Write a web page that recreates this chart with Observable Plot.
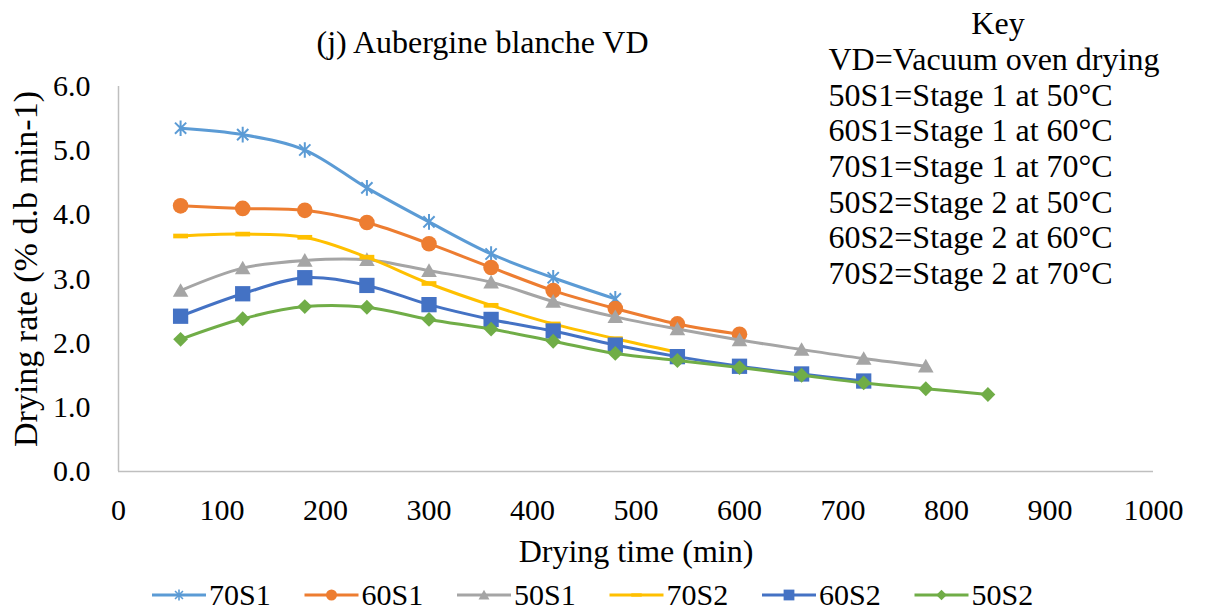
<!DOCTYPE html>
<html>
<head>
<meta charset="utf-8">
<script src="https://cdn.jsdelivr.net/npm/d3@7"></script>
<script src="https://cdn.jsdelivr.net/npm/@observablehq/plot@0.6"></script>
<style>
  body { margin: 0; background: #fff; }
  svg { display: block; }
</style>
</head>
<body>
<div id="chart"></div>
<script>
// Drying time (min) at which each rate was sampled
const times = [60, 120, 180, 240, 300, 360, 420, 480, 540, 600, 660, 720, 780, 840];

// Drying rate (% d.b. min-1) per treatment
const rate70S1 = [5.35, 5.25, 5.01, 4.42, 3.89, 3.39, 3.02, 2.69];
const rate60S1 = [4.14, 4.10, 4.07, 3.88, 3.55, 3.18, 2.82, 2.54, 2.30, 2.14];
const rate50S1 = [2.82, 3.17, 3.29, 3.30, 3.13, 2.95, 2.65, 2.41, 2.22, 2.05, 1.90, 1.76, 1.64];
const rate70S2 = [3.67, 3.70, 3.65, 3.34, 2.93, 2.59, 2.30, 2.07, 1.86];
const rate60S2 = [2.42, 2.77, 3.02, 2.90, 2.60, 2.37, 2.19, 1.97, 1.79, 1.64, 1.52, 1.41];
const rate50S2 = [2.06, 2.38, 2.57, 2.56, 2.37, 2.22, 2.03, 1.84, 1.73, 1.62, 1.50, 1.38, 1.29, 1.20];

const seriesNames = ["70S1", "60S1", "50S1", "70S2", "60S2", "50S2"];
const seriesColors = ["#5B9BD5", "#ED7D31", "#A5A5A5", "#FFC000", "#4472C4", "#70AD47"];
const seriesRates = [rate70S1, rate60S1, rate50S1, rate70S2, rate60S2, rate50S2];

const xTicks = [0, 100, 200, 300, 400, 500, 600, 700, 800, 900, 1000];
const yTicks = [0, 1, 2, 3, 4, 5, 6];

const chartTitle = "(j) Aubergine blanche VD";
const keyHeading = "Key";
const keyLines = [
  "VD=Vacuum oven drying",
  "50S1=Stage 1 at 50°C",
  "60S1=Stage 1 at 60°C",
  "70S1=Stage 1 at 70°C",
  "50S2=Stage 2 at 50°C",
  "60S2=Stage 2 at 60°C",
  "70S2=Stage 2 at 70°C"
];
const xLabel = "Drying time (min)";
const yLabel = "Drying rate (% d.b min-1)";

// Marker shapes; r is recovered from the symbol area Plot passes in
const rOf = (size) => Math.sqrt(size / Math.PI);
const starSym = { draw(ctx, size) {
  const r = rOf(size), d = r * 0.72;
  ctx.moveTo(0, -r); ctx.lineTo(0, r);
  ctx.moveTo(-d, -d); ctx.lineTo(d, d);
  ctx.moveTo(-d, d); ctx.lineTo(d, -d);
}};
const circleSym = d3.symbolCircle;
const triangleSym = { draw(ctx, size) {
  const r = rOf(size);
  ctx.moveTo(0, -r * 0.95); ctx.lineTo(r, r * 0.8); ctx.lineTo(-r, r * 0.8); ctx.closePath();
}};
const dashSym = { draw(ctx, size) {
  const r = rOf(size);
  ctx.rect(-r * 0.95, -r * 0.3, r * 1.9, r * 0.6);
}};
const squareSym = { draw(ctx, size) {
  const r = rOf(size) * 0.98;
  ctx.rect(-r, -r, 2 * r, 2 * r);
}};
const diamondSym = { draw(ctx, size) {
  const h = rOf(size) * 0.95;
  ctx.moveTo(0, -h); ctx.lineTo(h, 0); ctx.lineTo(0, h); ctx.lineTo(-h, 0); ctx.closePath();
}};
const seriesSymbols = [starSym, circleSym, triangleSym, dashSym, squareSym, diamondSym];

const FONT = "'Liberation Serif', 'Times New Roman', serif";
const markerR = 7.8;
const TICK_FS = 30;
const TEXT_FS = 32;

const series = seriesNames.map((name, i) => ({
  name,
  color: seriesColors[i],
  symbol: seriesSymbols[i],
  rows: seriesRates[i].map((v, j) => ({ time: times[j], rate: v }))
}));

// Each treatment: smoothed line, then its markers on top
const seriesMarks = series.flatMap((s) => [
  Plot.line(s.rows, { x: "time", y: "rate", stroke: s.color, strokeWidth: 3, curve: "catmull-rom" }),
  s.symbol === starSym
    ? Plot.dot(s.rows, { x: "time", y: "rate", symbol: s.symbol, r: markerR, stroke: s.color, strokeWidth: 2, fill: "none" })
    : Plot.dot(s.rows, { x: "time", y: "rate", symbol: s.symbol, r: markerR, fill: s.color, stroke: "none" })
]);

const plot = Plot.plot({
  width: 1205,
  height: 612,
  marginLeft: 118,
  marginRight: 52,
  marginTop: 86,
  marginBottom: 141,
  style: { fontFamily: FONT, background: "#fff", color: "#000" },
  x: { domain: [0, 1000] },
  y: { domain: [0, 6] },
  marks: [
    Plot.axisX({ ticks: xTicks, tickSize: 0, tickPadding: 27, fontSize: TICK_FS, tickFormat: d3.format("d"), label: null }),
    Plot.axisY({ ticks: yTicks, tickSize: 0, tickPadding: 28, fontSize: TICK_FS, tickFormat: d3.format(".1f"), label: null }),
    Plot.ruleX([0], { stroke: "#BFBFBF", strokeWidth: 1.5 }),
    Plot.ruleY([0], { stroke: "#BFBFBF", strokeWidth: 1.5 }),
    ...seriesMarks,
    // Titles and key
    Plot.text([chartTitle], { text: (d) => d, frameAnchor: "top", lineAnchor: "middle", dx: -153.5, dy: -44, fontSize: TEXT_FS, textAnchor: "middle", fill: "#000" }),
    Plot.text([keyHeading], { text: (d) => d, frameAnchor: "top", lineAnchor: "middle", dx: 362, dy: -63, fontSize: TEXT_FS, textAnchor: "middle", fill: "#000" }),
    Plot.text([keyLines.join("\n")], { text: (d) => d, frameAnchor: "top-left", lineAnchor: "middle", dx: 710, dy: 79, lineHeight: 1.115, fontSize: TEXT_FS, textAnchor: "start", fill: "#000" }),
    Plot.text([xLabel], { text: (d) => d, frameAnchor: "bottom", lineAnchor: "middle", dy: 80, fontSize: TEXT_FS, textAnchor: "middle", fill: "#000" }),
    Plot.text([yLabel], { text: (d) => d, frameAnchor: "left", lineAnchor: "middle", dx: -92, dy: -10, rotate: -90, fontSize: 34, textAnchor: "middle", fill: "#000" })
  ]
});

// Legend row under the axis title
const svg = d3.select(plot);
const legend = svg.append("g")
  .attr("font-family", FONT)
  .attr("font-size", TICK_FS)
  .attr("text-anchor", "start");
series.forEach((s, i) => {
  const g = legend.append("g").attr("transform", `translate(${152 + i * 152.5},595)`);
  g.append("line").attr("x1", 0).attr("x2", 54).attr("stroke", s.color).attr("stroke-width", 3);
  const size = Math.PI * 5.5 * 5.5;
  const p = g.append("path").attr("transform", "translate(27,0)").attr("d", d3.symbol(s.symbol, size)());
  if (s.symbol === starSym) p.attr("fill", "none").attr("stroke", s.color).attr("stroke-width", 1.6);
  else p.attr("fill", s.color);
  g.append("text").attr("x", 57).attr("dy", "0.32em").attr("fill", "#000").text(s.name);
});

document.getElementById("chart").appendChild(plot);
</script>
</body>
</html>
